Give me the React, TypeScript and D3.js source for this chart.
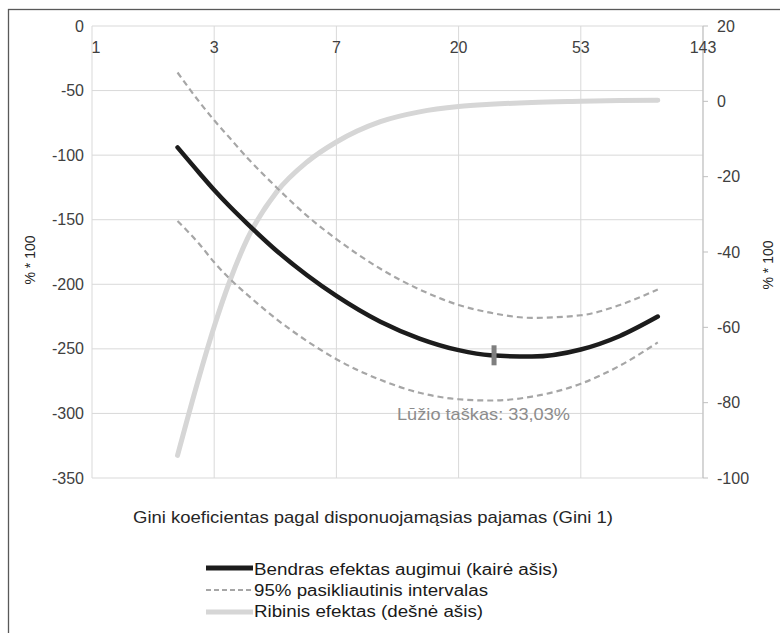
import React from "react";
import * as d3 from "d3";

// ---- data ----
const xTickLabels = ["1", "3", "7", "20", "53", "143"];
const leftTicks = [0, -50, -100, -150, -200, -250, -300, -350];
const rightTicks = [20, 0, -20, -40, -60, -80, -100];

// x positions in tick-index units (0 = "1", 5 = "143")
const xPos = [0.7, 0.88, 1.0, 1.13, 1.27, 1.51, 1.76, 2.0, 2.36, 2.68, 3.0, 3.26, 3.6, 4.0, 4.32, 4.63];
const totalEffect = [-94, -114, -127, -140, -153, -174, -193, -209, -229, -242, -251, -255, -256, -250.5, -240, -225];
const upperCI = [-36, -59, -73, -87, -102, -125, -147, -165, -188, -204, -216, -222, -226, -224, -216, -204];
const lowerCI = [-151, -169, -183, -196, -208, -227, -244, -258, -274, -284, -289, -290, -287, -277, -263, -245];
const marginalEffect = [-94, -72.8, -59.8, -47.5, -36.6, -24.1, -16.1, -10.8, -5.4, -2.8, -1.4, -0.8, -0.3, 0, 0.2, 0.3];

const breakPointX = [3.29];
const breakPointY = [-255];

const xAxisTitle = "Gini koeficientas pagal disponuojamąsias pajamas (Gini 1)";
const yAxisTitle = "% * 100";
const annotation = "Lūžio taškas: 33,03%";
const legendLabels = [
  "Bendras efektas augimui (kairė ašis)",
  "95% pasikliautinis intervalas",
  "Ribinis efektas (dešnė ašis)",
];

const FONT = "'Liberation Sans', Arial, Helvetica, sans-serif";

export default function App() {
  const x = d3.scaleLinear().domain([0, 5]).range([92, 703]);
  const yL = d3.scaleLinear().domain([-350, 0]).range([478, 26]);
  const yR = d3.scaleLinear().domain([-100, 20]).range([478, 26]);

  const lineL = d3
    .line<[number, number]>()
    .x((d) => x(d[0]))
    .y((d) => yL(d[1]))
    .curve(d3.curveMonotoneX);
  const lineR = d3
    .line<[number, number]>()
    .x((d) => x(d[0]))
    .y((d) => yR(d[1]))
    .curve(d3.curveMonotoneX);

  const zip = (ys: number[]) => xPos.map((v, i) => [v, ys[i]] as [number, number]);

  const xTicks = d3.range(xTickLabels.length);

  const legendY = [568, 590, 612];

  return (
    <svg
      width={780}
      height={633}
      style={{ position: "absolute", left: 0, top: 0, background: "#fff" }}
      fontFamily={FONT}
    >
      <rect x={0} y={0} width={780} height={633} fill="#fff" />
      {/* outer frame */}
      <rect x={8.5} y={9.5} width={900} height={900} fill="none" stroke="#595959" strokeWidth={1.3} />

      {/* horizontal gridlines */}
      {leftTicks.map((t) => (
        <line key={"h" + t} x1={x(0)} x2={x(5)} y1={yL(t)} y2={yL(t)} stroke="#d9d9d9" strokeWidth={1} />
      ))}
      {/* vertical gridlines */}
      {xTicks.map((t) => (
        <line key={"v" + t} x1={x(t)} x2={x(t)} y1={yL(0)} y2={yL(-350)} stroke="#d9d9d9" strokeWidth={1} />
      ))}
      {/* right axis */}
      <line x1={x(5)} x2={x(5)} y1={yR(20)} y2={yR(-100)} stroke="#bfbfbf" strokeWidth={1} />
      {rightTicks.map((t) => (
        <line key={"rt" + t} x1={x(5)} x2={x(5) + 5} y1={yR(t)} y2={yR(t)} stroke="#bfbfbf" strokeWidth={1} />
      ))}

      {/* left tick labels */}
      {leftTicks.map((t) => (
        <text key={"lt" + t} x={84} y={yL(t)} dy="0.35em" textAnchor="end" fontSize={16} fill="#404040">
          {t}
        </text>
      ))}
      {/* right tick labels */}
      {rightTicks.map((t) => (
        <text key={"rl" + t} x={717} y={yR(t)} dy="0.35em" textAnchor="start" fontSize={16} fill="#404040">
          {t}
        </text>
      ))}
      {/* top x tick labels */}
      {xTicks.map((t) => (
        <text
          key={"xt" + t}
          x={x(t) + (t === 0 ? 4 : 0)}
          y={53}
          textAnchor="middle"
          fontSize={16}
          fill="#404040"
        >
          {xTickLabels[t]}
        </text>
      ))}

      {/* series */}
      <path d={lineR(zip(marginalEffect)) || ""} fill="none" stroke="#d6d6d6" strokeWidth={5} strokeLinecap="round" />
      <path d={lineL(zip(upperCI)) || ""} fill="none" stroke="#a6a6a6" strokeWidth={2.2} strokeDasharray="6 4" />
      <path d={lineL(zip(lowerCI)) || ""} fill="none" stroke="#a6a6a6" strokeWidth={2.2} strokeDasharray="6 4" />
      <path d={lineL(zip(totalEffect)) || ""} fill="none" stroke="#1c1c1c" strokeWidth={4.5} strokeLinecap="round" />

      {/* break point marker */}
      {breakPointX.map((bx, i) => (
        <rect
          key={"bp" + i}
          x={x(bx) - 2.5}
          y={yL(breakPointY[i]) - 10}
          width={5}
          height={20}
          fill="#7f7f7f"
        />
      ))}

      {/* annotation */}
      <text x={397} y={420} fontSize={17} fill="#8c8c8c" textLength={173} lengthAdjust="spacingAndGlyphs">
        {annotation}
      </text>

      {/* axis titles */}
      <text transform={`translate(35,260) rotate(-90)`} textAnchor="middle" fontSize={14} fill="#262626">
        {yAxisTitle}
      </text>
      <text transform={`translate(773,265) rotate(-90)`} textAnchor="middle" fontSize={14} fill="#262626">
        {yAxisTitle}
      </text>
      <text x={133} y={523} fontSize={17} fill="#262626" textLength={480} lengthAdjust="spacingAndGlyphs">
        {xAxisTitle}
      </text>

      {/* legend */}
      <line x1={206} x2={253} y1={legendY[0]} y2={legendY[0]} stroke="#1c1c1c" strokeWidth={5} />
      <line x1={206} x2={253} y1={legendY[1]} y2={legendY[1]} stroke="#a6a6a6" strokeWidth={2} strokeDasharray="5 3" />
      <line x1={206} x2={253} y1={legendY[2]} y2={legendY[2]} stroke="#d6d6d6" strokeWidth={5} />
      {legendLabels.map((l, i) => (
        <text
          key={"lg" + i}
          x={254}
          y={[575, 596, 617][i]}
          fontSize={16}
          fill="#1a1a1a"
          textLength={[304, 234, 229][i]}
          lengthAdjust="spacingAndGlyphs"
        >
          {l}
        </text>
      ))}
    </svg>
  );
}
